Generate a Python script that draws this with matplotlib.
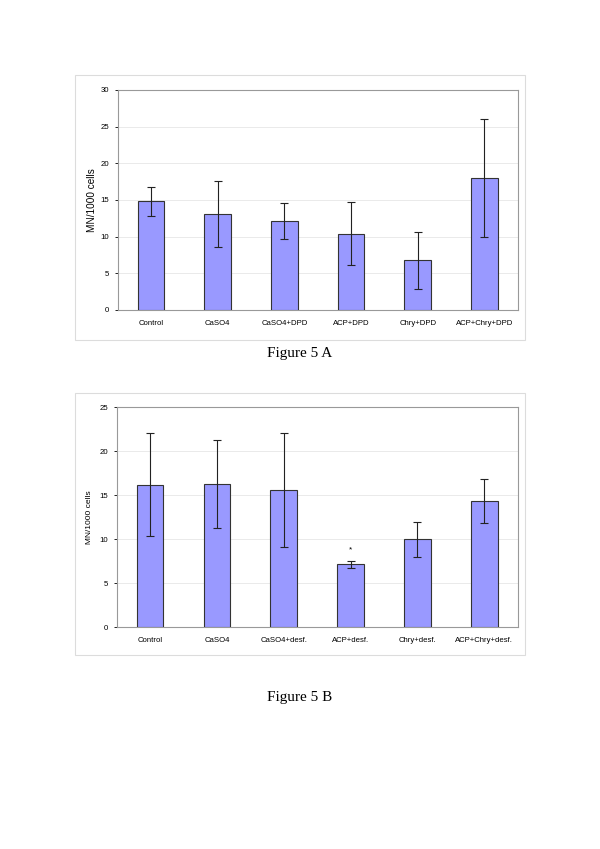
import matplotlib
matplotlib.use("Agg")
import matplotlib.pyplot as plt
from matplotlib.patches import Rectangle

# Figure 5 A
labels_a = ["Control", "CaSO4", "CaSO4+DPD", "ACP+DPD", "Chry+DPD", "ACP+Chry+DPD"]
means_a = [14.8, 13.15, 12.15, 10.4, 6.8, 18.0]
errs_a = [1.95, 4.5, 2.5, 4.3, 3.9, 8.0]

# Figure 5 B
labels_b = ["Control", "CaSO4", "CaSO4+desf.", "ACP+desf.", "Chry+desf.", "ACP+Chry+desf."]
means_b = [16.2, 16.3, 15.6, 7.15, 10.0, 14.3]
errs_b = [5.85, 5.0, 6.45, 0.4, 2.0, 2.5]
star_b = [None, None, None, "*", None, None]

W, H = 600, 849
fig = plt.figure(figsize=(W / 100, H / 100), dpi=100)
plt.rcParams["font.family"] = ["Liberation Sans", "DejaVu Sans"]


def px_axes(x0, y0, x1, y1):
    return fig.add_axes([x0 / W, 1 - y1 / H, (x1 - x0) / W, (y1 - y0) / H])


def frame(x0, y0, x1, y1):
    fig.patches.append(Rectangle((x0 / W, 1 - y1 / H), (x1 - x0) / W, (y1 - y0) / H,
                                 transform=fig.transFigure, fill=False,
                                 edgecolor="#dcdcdc", lw=0.8))


def draw(ax, labels, means, errs, ymax, ylab_size, ylab_pad, marks=None):
    x = range(len(labels))
    ax.bar(x, means, width=0.4, color="#9999ff", edgecolor="#333333", lw=0.8, zorder=3)
    ax.errorbar(x, means, yerr=errs, fmt="none", ecolor="#222222", elinewidth=0.8,
                capsize=3, capthick=0.8, zorder=4)
    if marks:
        for i, m in enumerate(marks):
            if m:
                ax.text(i, means[i] + errs[i] + 1.2, m, ha="center", va="center", fontsize=6)
    ax.set_xlim(-0.5, len(labels) - 0.5)
    ax.set_ylim(0, ymax)
    ax.set_yticks(range(0, ymax + 1, 5))
    ax.set_xticks(list(x))
    ax.set_xticklabels(labels, fontsize=5.6)
    ax.tick_params(axis="y", labelsize=5.6, length=2, width=0.6, pad=4)
    ax.tick_params(axis="x", length=0, pad=7)
    ax.yaxis.grid(True, color="#e6e6e6", lw=0.6, zorder=0)
    for s in ax.spines.values():
        s.set_color("#999999")
        s.set_linewidth(0.8)
    ax.set_ylabel("MN/1000 cells", fontsize=ylab_size, labelpad=ylab_pad)


frame(75, 75, 525, 340)
ax_a = px_axes(117.7, 90, 517.7, 310)
draw(ax_a, labels_a, means_a, errs_a, 30, 7.2, 3)

frame(75, 393, 525, 655)
ax_b = px_axes(116.7, 407.3, 517.7, 627.3)
draw(ax_b, labels_b, means_b, errs_b, 25, 6, 5, star_b)

fig.text(0.5, 1 - 353 / H, "Figure 5 A", ha="center", va="center",
         fontsize=11, family=["Liberation Serif", "DejaVu Serif"])
fig.text(0.5, 1 - 697 / H, "Figure 5 B", ha="center", va="center",
         fontsize=11, family=["Liberation Serif", "DejaVu Serif"])

fig.savefig("out.png", dpi=100)
